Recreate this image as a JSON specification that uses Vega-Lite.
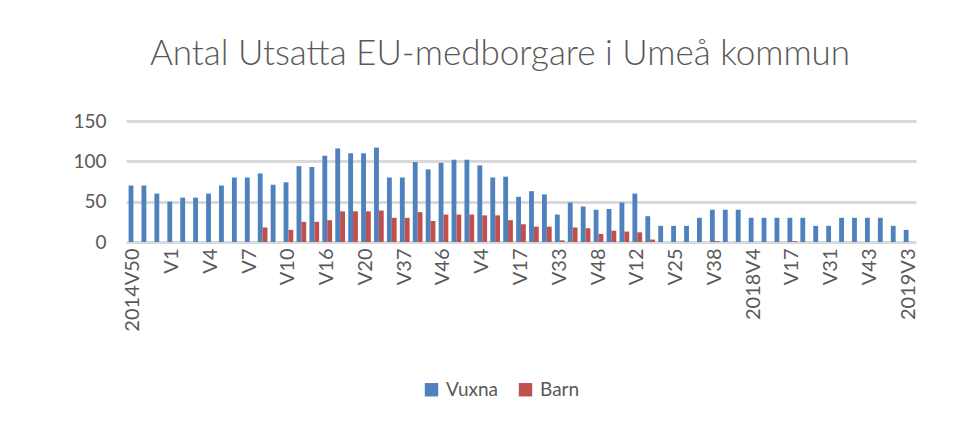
{
  "$schema": "https://vega.github.io/schema/vega-lite/v6.json",
  "width": 790,
  "height": 121,
  "autosize": {"type": "none"},
  "padding": {"left": 126, "top": 121, "right": 63, "bottom": 179},
  "background": "white",
  "title": {
    "text": "Antal Utsatta EU-medborgare i Umeå kommun",
    "font": "Lato",
    "fontWeight": 300,
    "fontSize": 35,
    "color": "#595959",
    "anchor": "middle",
    "dx": -21,
    "offset": 40
  },
  "data": {
    "values": [
      {"vecka": "00|2014V50", "Vuxna": 70, "Barn": 0},
      {"vecka": "01|V51", "Vuxna": 70, "Barn": 0},
      {"vecka": "02|V52", "Vuxna": 60, "Barn": 0},
      {"vecka": "03|V1", "Vuxna": 50, "Barn": 0},
      {"vecka": "04|V2", "Vuxna": 55, "Barn": 0},
      {"vecka": "05|V3", "Vuxna": 55, "Barn": 0},
      {"vecka": "06|V4", "Vuxna": 60, "Barn": 0},
      {"vecka": "07|V5", "Vuxna": 70, "Barn": 0},
      {"vecka": "08|V6", "Vuxna": 80, "Barn": 0},
      {"vecka": "09|V7", "Vuxna": 80, "Barn": 0},
      {"vecka": "10|V8", "Vuxna": 85, "Barn": 18},
      {"vecka": "11|V9", "Vuxna": 71, "Barn": 0},
      {"vecka": "12|V10", "Vuxna": 74, "Barn": 15},
      {"vecka": "13|V12", "Vuxna": 94, "Barn": 25},
      {"vecka": "14|V14", "Vuxna": 93, "Barn": 25},
      {"vecka": "15|V16", "Vuxna": 107, "Barn": 27},
      {"vecka": "16|V17", "Vuxna": 116, "Barn": 38},
      {"vecka": "17|V18", "Vuxna": 110, "Barn": 38},
      {"vecka": "18|V20", "Vuxna": 110, "Barn": 38},
      {"vecka": "19|V22", "Vuxna": 117, "Barn": 39},
      {"vecka": "20|V24", "Vuxna": 80, "Barn": 30},
      {"vecka": "21|V37", "Vuxna": 80, "Barn": 30},
      {"vecka": "22|V40", "Vuxna": 99, "Barn": 37},
      {"vecka": "23|V43", "Vuxna": 90, "Barn": 26},
      {"vecka": "24|V46", "Vuxna": 98, "Barn": 34},
      {"vecka": "25|V49", "Vuxna": 102, "Barn": 34},
      {"vecka": "26|V52", "Vuxna": 102, "Barn": 34},
      {"vecka": "27|V4", "Vuxna": 95, "Barn": 33},
      {"vecka": "28|V8", "Vuxna": 80, "Barn": 33},
      {"vecka": "29|V12", "Vuxna": 81, "Barn": 27},
      {"vecka": "30|V17", "Vuxna": 56, "Barn": 22},
      {"vecka": "31|V22", "Vuxna": 63, "Barn": 19},
      {"vecka": "32|V27", "Vuxna": 59, "Barn": 19},
      {"vecka": "33|V33", "Vuxna": 34, "Barn": 2},
      {"vecka": "34|V38", "Vuxna": 49, "Barn": 18},
      {"vecka": "35|V43", "Vuxna": 44, "Barn": 17},
      {"vecka": "36|V48", "Vuxna": 40, "Barn": 10},
      {"vecka": "37|V51", "Vuxna": 41, "Barn": 14},
      {"vecka": "38|V6", "Vuxna": 49, "Barn": 13},
      {"vecka": "39|V12", "Vuxna": 60, "Barn": 12},
      {"vecka": "40|V16", "Vuxna": 32, "Barn": 3},
      {"vecka": "41|V21", "Vuxna": 20, "Barn": 0},
      {"vecka": "42|V25", "Vuxna": 20, "Barn": 0},
      {"vecka": "43|V30", "Vuxna": 20, "Barn": 0},
      {"vecka": "44|V34", "Vuxna": 30, "Barn": 0},
      {"vecka": "45|V38", "Vuxna": 40, "Barn": 1},
      {"vecka": "46|V43", "Vuxna": 40, "Barn": 0},
      {"vecka": "47|V48", "Vuxna": 40, "Barn": 0},
      {"vecka": "48|2018V4", "Vuxna": 30, "Barn": 0},
      {"vecka": "49|V8", "Vuxna": 30, "Barn": 0},
      {"vecka": "50|V13", "Vuxna": 30, "Barn": 0},
      {"vecka": "51|V17", "Vuxna": 30, "Barn": 1},
      {"vecka": "52|V22", "Vuxna": 30, "Barn": 0},
      {"vecka": "53|V26", "Vuxna": 20, "Barn": 0},
      {"vecka": "54|V31", "Vuxna": 20, "Barn": 0},
      {"vecka": "55|V35", "Vuxna": 30, "Barn": 0},
      {"vecka": "56|V39", "Vuxna": 30, "Barn": 0},
      {"vecka": "57|V43", "Vuxna": 30, "Barn": 0},
      {"vecka": "58|V47", "Vuxna": 30, "Barn": 0},
      {"vecka": "59|V51", "Vuxna": 20, "Barn": 0},
      {"vecka": "60|2019V3", "Vuxna": 15, "Barn": 0}
    ]
  },
  "transform": [
    {"fold": ["Vuxna", "Barn"], "as": ["serie", "antal"]}
  ],
  "mark": {"type": "bar"},
  "encoding": {
    "x": {
      "field": "vecka",
      "type": "nominal",
      "sort": null,
      "scale": {"paddingInner": 0.25, "paddingOuter": 0.2},
      "axis": {
        "title": null,
        "labelAngle": -90,
        "labelExpr": "toNumber(split(datum.value,'|')[0]) % 3 == 0 ? split(datum.value,'|')[1] : ''",
        "labelOverlap": false,
        "labelFont": "Lato",
        "labelFontSize": 20,
        "labelColor": "#595959",
        "labelPadding": 6,
        "ticks": false,
        "domain": false,
        "grid": false
      }
    },
    "xOffset": {
      "field": "serie",
      "type": "nominal",
      "sort": ["Vuxna", "Barn"],
      "scale": {"paddingInner": 0}
    },
    "y": {
      "field": "antal",
      "type": "quantitative",
      "scale": {"domain": [0, 150], "nice": false},
      "axis": {
        "title": null,
        "values": [0, 50, 100, 150],
        "labelFont": "Lato",
        "labelFontSize": 19,
        "labelColor": "#595959",
        "labelPadding": 20,
        "ticks": false,
        "domain": false,
        "grid": true,
        "gridColor": "#d9d9d9",
        "gridWidth": 3
      }
    },
    "color": {
      "field": "serie",
      "type": "nominal",
      "sort": ["Vuxna", "Barn"],
      "scale": {"domain": ["Vuxna", "Barn"], "range": ["#4f81bd", "#c0504d"]},
      "legend": {
        "title": null,
        "orient": "none",
        "legendX": 296,
        "legendY": 259,
        "direction": "horizontal",
        "symbolType": "square",
        "symbolSize": 180,
        "symbolStrokeWidth": 0,
        "labelFont": "Lato",
        "labelFontSize": 19,
        "labelColor": "#595959",
        "columnPadding": 18,
        "labelOffset": 5
      }
    }
  },
  "config": {
    "view": {"stroke": null}
  }
}
